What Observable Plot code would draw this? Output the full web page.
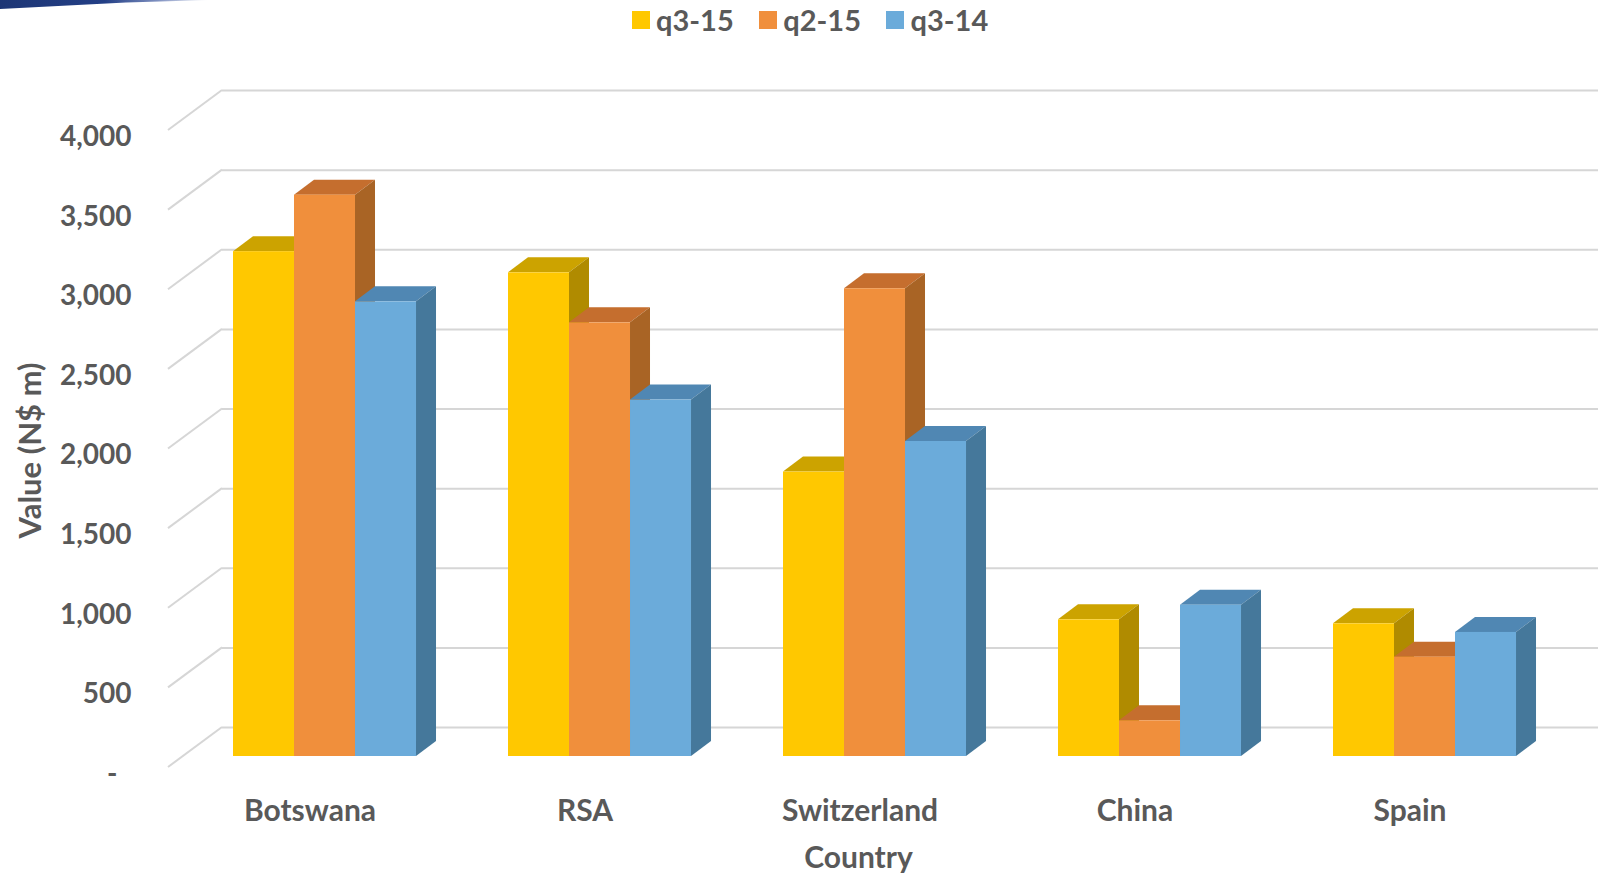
<!DOCTYPE html>
<html>
<head>
<meta charset="utf-8">
<script src="https://cdn.jsdelivr.net/npm/d3@7"></script>
<script src="https://cdn.jsdelivr.net/npm/@observablehq/plot@0.6"></script>
<style>
  html, body { margin: 0; padding: 0; background: #fff; }
  #wrap { position: relative; width: 1598px; height: 875px; overflow: hidden; font-family: Lato, "Open Sans", sans-serif; }
  #swoosh { position: absolute; left: 0; top: 0; width: 210px; height: 10px;
    background: linear-gradient(90deg, #1d3675 0%, #233f86 50%, rgba(40,70,150,0.6) 75%, rgba(255,255,255,0) 100%);
    clip-path: polygon(0 0, 100% 0, 60% 25%, 0 90%); }
  #legend { position: absolute; left: 632px; top: 2px; display: flex; align-items: center; color: #595959;
    font-weight: 700; font-size: 29px; line-height: 36px; }
  #legend .item { display: flex; align-items: center; margin-right: 25.5px; }
  #legend .sw { width: 18px; height: 18px; margin-right: 6px; }
  #chart { position: absolute; left: 0; top: 0; }
</style>
</head>
<body>
<div id="wrap">
  <div id="chart"></div>
  <div id="swoosh"></div>
  <div id="legend"></div>
</div>
<script>
// ---- data ----
const countries = ["Botswana", "RSA", "Switzerland", "China", "Spain"];
const seriesNames = ["q3-15", "q2-15", "q3-14"];
const q3_15 = [3170, 3037, 1786, 858, 833];
const q2_15 = [3525, 2723, 2937, 224, 624];
const q3_14 = [2855, 2238, 1978, 950, 779];
const yTicks = [0, 500, 1000, 1500, 2000, 2500, 3000, 3500, 4000];
const yTickLabels = ["-\u2002", "500", "1,000", "1,500", "2,000", "2,500", "3,000", "3,500", "4,000"];

// ---- styles ----
const frontColors = ["#FFC800", "#F08F3C", "#6BABDA"];
const topColors   = ["#CCA300", "#C56E2E", "#5087B3"];
const sideColors  = ["#B08B00", "#A96425", "#45789B"];
const textColor = "#595959";
const gridColor = "#d6d6d6";
const FONT = "Lato, 'Open Sans', sans-serif";

const seriesValues = [q3_15, q2_15, q3_14];
const rows = [];
seriesValues.forEach((vals, j) => countries.forEach((c, i) => rows.push({country: c, series: seriesNames[j], j, value: vals[i]})));

// geometry (pixels)
const W = 1598, H = 875;
const RANGE = [232.3, 1517];
const PAD = 0.3355;
const STEP = (RANGE[1] - RANGE[0]) / (countries.length - PAD);
const BAR = STEP * (1 - PAD) / 3;
const DX = 20, DY = 15;            // bar depth
const WALL_DX = 54, WALL_DY = 40;  // floor/wall depth
const BACK = 29;                   // offset of back wall above bar front plane

// legend
const legend = document.getElementById("legend");
seriesNames.forEach((s, j) => {
  const it = document.createElement("div"); it.className = "item";
  const sw = document.createElement("div"); sw.className = "sw"; sw.style.background = frontColors[j];
  const tx = document.createElement("span"); tx.textContent = s;
  it.appendChild(sw); it.appendChild(tx); legend.appendChild(it);
});

function slants(index, scales) {
  const y = scales.y;
  const g = d3.create("svg:g");
  yTicks.forEach(v => {
    const yb = y(v) - BACK;
    g.append("line")
      .attr("x1", 168).attr("y1", yb + WALL_DY)
      .attr("x2", 168 + WALL_DX).attr("y2", yb)
      .attr("stroke", gridColor).attr("stroke-width", 2);
  });
  return g.node();
}

function faces(index, scales) {
  const {x, y} = scales;
  const g = d3.create("svg:g");
  countries.forEach((c, i) => {
    seriesValues.forEach((vals, j) => {
      const L = x(c) + j * BAR, R = L + BAR, yt = y(vals[i]), yb = y(0);
      g.append("path")
        .attr("d", `M${L},${yt}L${R},${yt}L${R + DX},${yt - DY}L${L + DX},${yt - DY}Z`)
        .attr("fill", topColors[j]);
      g.append("path")
        .attr("d", `M${R},${yt}L${R + DX},${yt - DY}L${R + DX},${yb - DY}L${R},${yb}Z`)
        .attr("fill", sideColors[j]);
    });
  });
  return g.node();
}

const chart = Plot.plot({
  width: W,
  height: H,
  marginLeft: 168,
  marginRight: 0,
  marginTop: 119,
  marginBottom: 119,
  style: {background: "transparent", fontFamily: FONT, overflow: "visible"},
  x: {domain: countries, range: RANGE, paddingInner: PAD, paddingOuter: 0, axis: null},
  y: {domain: [0, 4000], axis: null},
  marks: [
    Plot.ruleY(yTicks, {y: d => d, dy: -BACK, insetLeft: WALL_DX, stroke: gridColor, strokeWidth: 2}),
    slants,
    faces,
    ...seriesNames.map((s, j) => Plot.barY(rows.filter(r => r.j === j), {
      x: "country", y: "value", fill: frontColors[j],
      insetLeft: j * BAR, insetRight: (2 - j) * BAR
    })),
    Plot.text(yTicks, {y: d => d, text: (d, i) => yTickLabels[i], frameAnchor: "left", dx: -37, dy: 17.5,
      textAnchor: "end", fontSize: 28, fontWeight: 700, fill: textColor}),
    Plot.text(countries, {x: d => d, y: 0, text: d => d, dx: -15, dy: 55,
      fontSize: 30, fontWeight: 700, fill: textColor}),
    Plot.text(["Country"], {frameAnchor: "bottom", text: d => d, dx: -25, dy: 111,
      fontSize: 30, fontWeight: 700, fill: textColor}),
    Plot.text(["Value (N$ m)"], {frameAnchor: "left", text: d => d, rotate: -90, dx: -137, dy: 100.5,
      fontSize: 31, fontWeight: 700, fill: textColor})
  ]
});
document.getElementById("chart").appendChild(chart);
</script>
</body>
</html>
